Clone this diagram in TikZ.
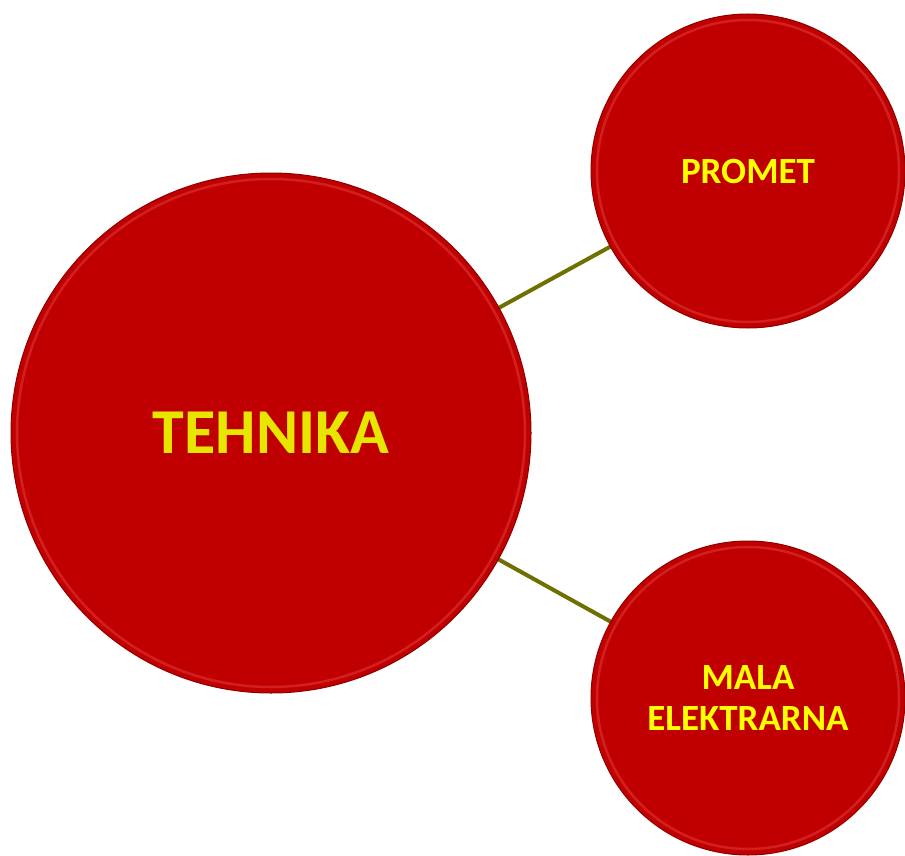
\documentclass[tikz,border=0pt]{standalone}
\usepackage{fontspec}
\setmainfont{Carlito}
\usetikzlibrary{backgrounds}
\definecolor{ballred}{HTML}{C00000}
\definecolor{rimred}{HTML}{8E0000}
\definecolor{glowred}{HTML}{E43A3A}
\definecolor{linkolive}{HTML}{6E7000}
\definecolor{mainyellow}{HTML}{E6E600}
\definecolor{labelyellow}{HTML}{FFFF00}
\begin{document}
\begin{tikzpicture}[x=1pt,y=-1pt,
  ball/.style={circle, fill=ballred, draw=rimred, line width=1pt, inner sep=0pt,
    text=labelyellow, font=\bfseries, align=center},
  link/.style={draw=linkolive, line width=4pt}]
\useasboundingbox (0,0) rectangle (905,856);
\node[ball, minimum size=520pt, text=mainyellow, font=\bfseries\fontsize{64}{70}\selectfont] (tech) at (271,433) {TEHNIKA};
\node[ball, minimum size=314pt, font=\bfseries\fontsize{37}{40}\selectfont] (promet) at (748,171) {PROMET};
\node[ball, minimum size=314pt, font=\bfseries\fontsize{37}{41}\selectfont] (mala) at (748,698) {MALA\\ELEKTRARNA};
\begin{scope}[on background layer]
  \draw[link] (tech.center) -- (promet.center);
  \draw[link] (tech.center) -- (mala.center);
\end{scope}
\foreach \n/\r in {tech/254, promet/151, mala/151}{
  \draw[glowred, line width=2.5pt, opacity=0.55] (\n.center) circle (\r);
}
\end{tikzpicture}
\end{document}
